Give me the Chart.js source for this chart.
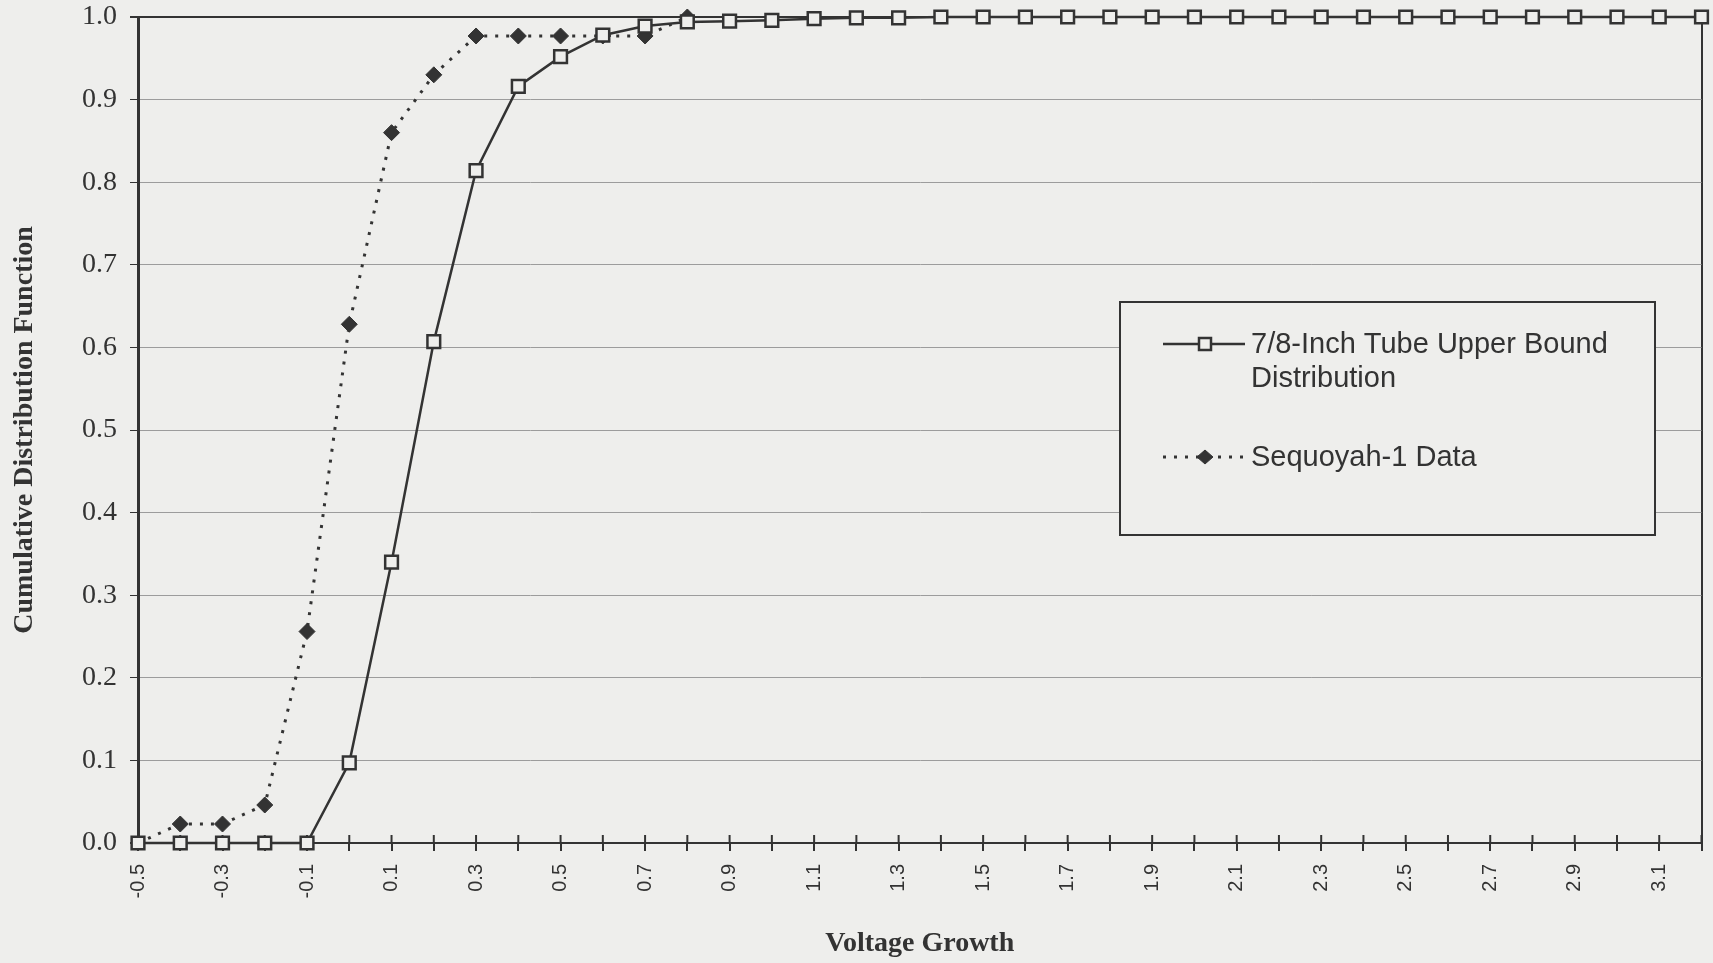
<!DOCTYPE html>
<html>
<head>
<meta charset="utf-8">
<script src="https://cdn.jsdelivr.net/npm/chart.js@4/dist/chart.umd.min.js"></script>
<style>
  html, body { margin: 0; padding: 0; background: #eeeeec; }
  #wrap { width: 1713px; height: 963px; position: relative; }
</style>
</head>
<body>
<div id="wrap"><canvas id="cdf"></canvas></div>
<script>
// voltage growth bins (category axis)
const growthBins = [-0.5, -0.4, -0.3, -0.2, -0.1, 0.0, 0.1, 0.2, 0.3, 0.4,
  0.5, 0.6, 0.7, 0.8, 0.9, 1.0, 1.1, 1.2, 1.3, 1.4,
  1.5, 1.6, 1.7, 1.8, 1.9, 2.0, 2.1, 2.2, 2.3, 2.4,
  2.5, 2.6, 2.7, 2.8, 2.9, 3.0, 3.1, 3.2];

// 7/8-inch tube upper bound distribution
const upperBound = [0, 0, 0, 0, 0, 0.097, 0.340, 0.607, 0.814, 0.916,
  0.952, 0.978, 0.989, 0.994, 0.995, 0.996, 0.998, 0.999, 0.999, 1.0,
  1.0, 1.0, 1.0, 1.0, 1.0, 1.0, 1.0, 1.0, 1.0, 1.0,
  1.0, 1.0, 1.0, 1.0, 1.0, 1.0, 1.0, 1.0];

// Sequoyah-1 data
const sequoyahData = [0, 0.023, 0.023, 0.046, 0.256, 0.628, 0.860, 0.930, 0.977, 0.977,
  0.977, 0.977, 0.977, 1.0];

const seriesNames = [['7/8-Inch Tube Upper Bound', 'Distribution'], ['Sequoyah-1 Data']];

const ink = '#333333';
const paper = '#eeeeec';

Chart.defaults.font.family = '"Liberation Sans", Arial, sans-serif';
Chart.defaults.color = ink;

// excel style ticks that cross the x axis, plus upright (bottom-to-top) labels
const crossTicks = {
  id: 'crossTicks',
  beforeDatasetsDraw(chart) {
    const xs = chart.scales.x;
    const ctx = chart.ctx;
    const b = chart.chartArea.bottom;
    ctx.save();
    ctx.strokeStyle = ink;
    ctx.lineWidth = 2;
    for (let i = 1; i < xs.ticks.length; i++) {
      const px = xs.getPixelForTick(i);
      ctx.beginPath();
      ctx.moveTo(px, b);
      ctx.lineTo(px, b - 8);
      ctx.stroke();
    }
    ctx.fillStyle = ink;
    ctx.font = '20px "Liberation Sans", Arial, sans-serif';
    ctx.textAlign = 'right';
    ctx.textBaseline = 'middle';
    for (let i = 0; i < xs.ticks.length; i += 2) {
      const px = xs.getPixelForTick(i);
      ctx.save();
      ctx.translate(px, b + 21);
      ctx.rotate(-Math.PI / 2);
      ctx.fillText(xs.getLabelForValue(i), 0, 0);
      ctx.restore();
    }
    ctx.restore();
  }
};

// boxed legend sitting inside the plot
const boxLegend = {
  id: 'boxLegend',
  afterDraw(chart) {
    const ctx = chart.ctx;
    const box = { x: 1120, y: 302, w: 535, h: 233 };
    ctx.save();
    ctx.fillStyle = paper;
    ctx.fillRect(box.x, box.y, box.w, box.h);
    ctx.strokeStyle = ink;
    ctx.lineWidth = 2;
    ctx.strokeRect(box.x, box.y, box.w, box.h);

    const rows = [344, 457];
    chart.data.datasets.forEach((ds, i) => {
      const y = rows[i];
      ctx.strokeStyle = ds.borderColor;
      ctx.lineWidth = ds.borderWidth;
      ctx.setLineDash(ds.borderDash || []);
      ctx.beginPath();
      ctx.moveTo(1163, y);
      ctx.lineTo(1245, y);
      ctx.stroke();
      ctx.setLineDash([]);
      ctx.fillStyle = ds.pointBackgroundColor;
      ctx.lineWidth = ds.pointBorderWidth;
      ctx.beginPath();
      if (ds.pointStyle === 'rect') {
        ctx.rect(1199, y - 6, 12, 12);
      } else {
        ctx.moveTo(1205, y - 7); ctx.lineTo(1213, y); ctx.lineTo(1205, y + 7); ctx.lineTo(1197, y); ctx.closePath();
      }
      ctx.fill();
      ctx.stroke();

      ctx.fillStyle = ink;
      ctx.font = '29px "Liberation Sans", Arial, sans-serif';
      ctx.textBaseline = 'middle';
      seriesNames[i].forEach((t, k) => ctx.fillText(t, 1251, y + 1 + k * 34));
    });
    ctx.restore();
  }
};

new Chart(document.getElementById('cdf'), {
  type: 'line',
  data: {
    labels: growthBins.map(v => v.toFixed(1)),
    datasets: [
      {
        label: seriesNames[0].join(' '),
        data: upperBound,
        borderColor: ink,
        borderWidth: 2.5,
        pointStyle: 'rect',
        pointRadius: 9,
        pointBackgroundColor: paper,
        pointBorderColor: ink,
        pointBorderWidth: 2.5,
        tension: 0,
        clip: false
      },
      {
        label: seriesNames[1][0],
        data: sequoyahData,
        borderColor: ink,
        borderWidth: 3,
        borderDash: [3, 8],
        pointStyle: 'rectRot',
        pointRadius: 8,
        pointBackgroundColor: ink,
        pointBorderColor: ink,
        pointBorderWidth: 1,
        tension: 0,
        clip: false
      }
    ]
  },
  options: {
    responsive: true,
    maintainAspectRatio: false,
    animation: false,
    layout: { padding: { top: 17, right: 10, left: 0, bottom: 0 } },
    plugins: { legend: { display: false }, tooltip: { enabled: false } },
    scales: {
      x: {
        type: 'category',
        offset: false,
        border: { color: ink, width: 2 },
        grid: {
          color: c => c.index === growthBins.length - 1 ? ink : 'rgba(0,0,0,0)',
          lineWidth: 2,
          tickColor: ink,
          tickLength: 8,
          tickWidth: 2
        },
        ticks: { display: false, autoSkip: false },
        title: {
          display: true,
          text: 'Voltage Growth',
          font: { family: '"Liberation Serif", "Times New Roman", serif', size: 28, weight: 'bold' },
          padding: { top: 0, bottom: 2 }
        },
        afterFit: s => { s.height = 120; }
      },
      y: {
        min: 0,
        max: 1,
        border: { color: ink, width: 3 },
        grid: {
          color: c => c.tick && c.tick.value === 1 ? ink : '#9c9c9c',
          lineWidth: c => c.tick && c.tick.value === 1 ? 2 : 1,
          tickColor: ink,
          tickLength: 8
        },
        ticks: {
          stepSize: 0.1,
          padding: 13,
          font: { family: '"Liberation Serif", "Times New Roman", serif', size: 28 },
          callback: v => v.toFixed(1)
        },
        title: {
          display: true,
          text: 'Cumulative Distribution Function',
          font: { family: '"Liberation Serif", "Times New Roman", serif', size: 28, weight: 'bold' },
          padding: { top: 8, bottom: 0 }
        },
        afterFit: s => { s.width = 138; s.paddingTop = 0; s.paddingBottom = 0; }
      }
    }
  },
  plugins: [crossTicks, boxLegend]
});
</script>
</body>
</html>
